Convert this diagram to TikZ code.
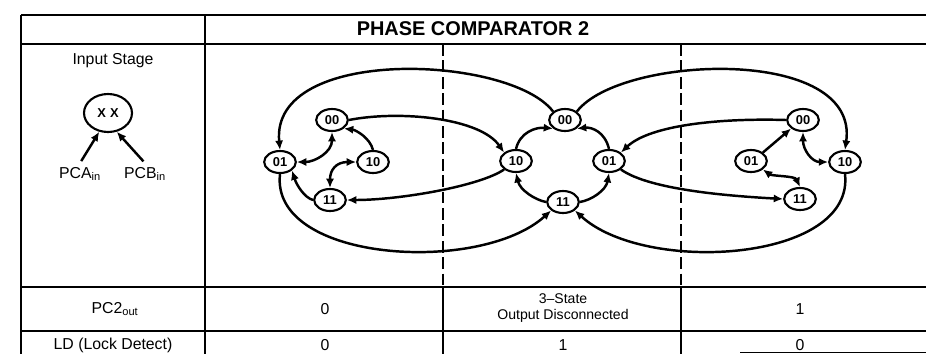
\documentclass[tikz,border=0pt]{standalone}
\usepackage{fontspec}
\setmainfont{Liberation Sans}
\usetikzlibrary{arrows.meta, shapes.geometric}

\begin{document}
\begin{tikzpicture}[x=0.03cm, y=-0.03cm,
    state/.style={ellipse, draw, line width=1.8pt, minimum width=0.95cm, minimum height=0.66cm, inner sep=0pt, font=\bfseries\fontsize{11}{11}\selectfont},
    trans/.style={line width=2.1pt, -{Latex[length=8pt,width=7pt]}},
    both/.style={line width=2.1pt, {Latex[length=8pt,width=7pt]}-{Latex[length=8pt,width=7pt]}},
    grid/.style={line width=1.5pt},
    divider/.style={line width=1.4pt, dash pattern=on 10pt off 4pt},
    label/.style={font=\fontsize{13.5}{15}\selectfont}
]
    \useasboundingbox (0,0) rectangle (926,354);

    % Table frame
    \draw[grid] (21,15) -- (926,15);
    \draw[grid] (21,44) -- (926,44);
    \draw[grid] (21,287) -- (926,287);
    \draw[grid] (21,331) -- (926,331);
    \draw[grid] (21,15) -- (21,354);
    \draw[grid] (205,15) -- (205,354);
    \draw[line width=0.8pt] (740,352.5) -- (926,352.5);

    % Phase regions
    \draw[divider] (443,44) -- (443,287);
    \draw[divider] (681,44) -- (681,287);
    \draw[grid] (443,287) -- (443,354);
    \draw[grid] (681,287) -- (681,354);

    % Heading and row labels
    \node[font=\bfseries\fontsize{17}{18}\selectfont] (title) at (473,29) {PHASE COMPARATOR 2};
    \node[label] (instage) at (113,61) {Input Stage};
    \node[label] (pcout) at (115,309) {PC2\textsubscript{out}};
    \node[label] (lock) at (113,345) {LD (Lock Detect)};

    % Input stage
    \node[ellipse, draw, line width=1.8pt, minimum width=1.44cm, minimum height=1.14cm, font=\bfseries\fontsize{11}{11}\selectfont] (inp) at (108,113) {X\,\,X};
    \node[label] (pca) at (80,174) {PCA\textsubscript{in}};
    \node[label] (pcb) at (145,174) {PCB\textsubscript{in}};
    \draw[trans, shorten <=2pt] (pca.north) -- (inp.-115);
    \draw[trans, shorten <=2pt] (pcb.north) -- (inp.-65);

    % States, left region
    \node[state] (L00) at (332,120) {00};
    \node[state] (L01) at (280,162) {01};
    \node[state] (L10) at (373,162) {10};
    \node[state] (L11) at (330,200) {11};

    % States, middle region
    \node[state] (M00) at (565,120) {00};
    \node[state] (M10) at (516,161) {10};
    \node[state] (M01) at (609,161) {01};
    \node[state] (M11) at (563,202) {11};

    % States, right region
    \node[state] (R00) at (803,120) {00};
    \node[state] (R01) at (751,161) {01};
    \node[state] (R10) at (845,162) {10};
    \node[state] (R11) at (800,199) {11};

    % Transitions, left
    \draw[both] (L00.south) .. controls (332,152) and (315,162) .. (L01.east);
    \draw[trans] (L10.north) .. controls (370,138) and (356,130) .. (L00.south east);
    \draw[both] (L10.west) .. controls (336,162) and (330,170) .. (L11.north);
    \draw[trans] (L11.west) .. controls (305,198) and (297,186) .. (L01.south east);

    % Transitions, middle
    \draw[trans] (M10.north) .. controls (520,132) and (536,127) .. (M00.south west);
    \draw[trans] (M01.north) .. controls (605,132) and (592,127) .. (M00.south east);
    \draw[trans] (M11.west) .. controls (535,200) and (520,190) .. (M10.south);
    \draw[trans] (M11.east) .. controls (592,200) and (606,190) .. (M01.south);

    % Transitions, right
    \draw[trans] (R01.north east) -- (R00.south west);
    \draw[both] (R10.west) .. controls (812,162) and (803,150) .. (R00.south);
    \draw[both] (R01.south east) .. controls (772,176) and (795,176) .. (R11.north);

    % Transitions across the regions
    \draw[trans] (L00.east) .. controls (400,110) and (480,118) .. (M10.north west);
    \draw[trans] (M10.south west) .. controls (480,186) and (400,200) .. (L11.east);
    \draw[trans] (M00.north west) .. controls (510,55) and (270,45) .. (L01.north);
    \draw[trans] (L01.south) .. controls (270,262) and (480,275) .. (M11.south west);
    \draw[trans] (M00.north east) .. controls (620,55) and (860,45) .. (R10.north);
    \draw[trans] (R10.south) .. controls (855,262) and (645,275) .. (M11.south east);
    \draw[trans] (R00.west) .. controls (720,118) and (650,125) .. (M01.north east);
    \draw[trans] (M01.south east) .. controls (650,190) and (730,196) .. (R11.west);

    % Output values
    \node[label] (out0) at (325,309) {0};
    \node[label, align=center, font=\fontsize{12}{13}\selectfont] (outz) at (563,308) {3--State\\Output Disconnected};
    \node[label] (out1) at (800,309) {1};
    \node[label] (ld0) at (325,345) {0};
    \node[label] (ld1) at (563,345) {1};
    \node[label] (ld2) at (800,345) {0};

\end{tikzpicture}
\end{document}
